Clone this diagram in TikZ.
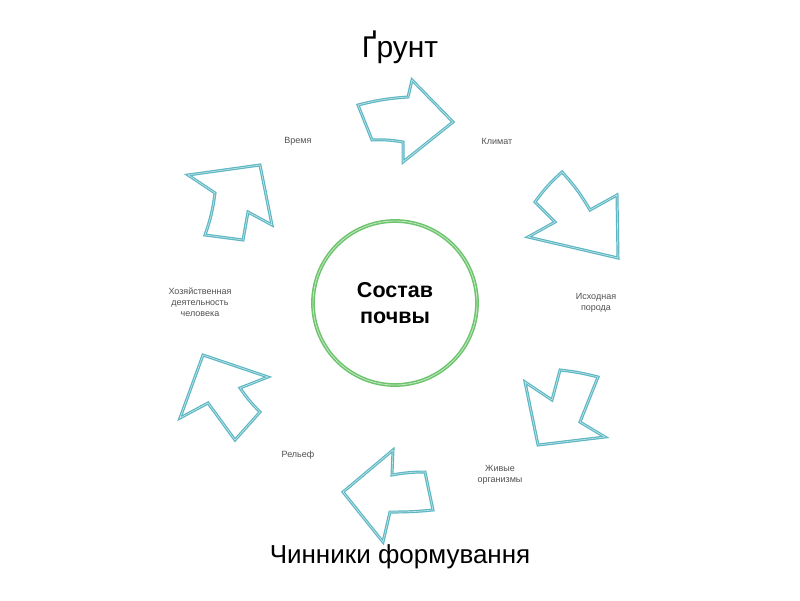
\documentclass[tikz,border=0pt]{standalone}
\usepackage{fontspec}
\setmainfont{Liberation Sans}
\definecolor{arrowc}{HTML}{5DB7C3}
\definecolor{ringc}{HTML}{6CC46C}
\definecolor{labc}{HTML}{505050}
\begin{document}
\begin{tikzpicture}[x=1pt,y=-1pt,
  arrowshape/.style={draw=arrowc,line width=1.2pt,double=arrowc!35,double distance=0.6pt,line join=miter,fill=white},
  lab/.style={text=labc,font=\fontsize{9}{11}\selectfont,align=center},
  title/.style={font=\fontsize{30}{34}\selectfont}]
\useasboundingbox (0,0) rectangle (800,600);
% title
\node[title] (t1) at (400,47) {Ґрунт};
\node[title,font=\fontsize{26}{30}\selectfont] (t2) at (400,557) {Чинники формування};
% centre
\node[circle,draw=ringc,line width=1.5pt,double=ringc!40,double distance=0.8pt,minimum size=164pt,
  font=\bfseries\fontsize{21.5}{26}\selectfont,align=center] (c) at (395,303) {Состав\\почвы};
% arrows
\draw[arrowshape] (358,105) to[bend left=5] (408,97) -- (412,80) -- (453,122) -- (403,162) -- (403,142) to[bend right=6] (372,140) -- cycle;
\draw[arrowshape] (562,172) to[bend right=6] (535,202) -- (555,222) -- (528,237) -- (618,258) -- (617,195) -- (590,210) to[bend right=6] cycle;
\draw[arrowshape] (525,382) -- (552,400) -- (560,370) to[bend left=4] (598,377) -- (580,422) -- (605,437) -- (538,445) -- cycle;
\draw[arrowshape] (343,492) -- (393,450) -- (392,475) to[bend left=5] (425,472) -- (433,510) to[bend left=3] (390,512) -- (383,542) -- cycle;
\draw[arrowshape] (203,355) -- (268,377) -- (240,388) to[bend right=5] (260,412) -- (235,440) -- (208,403) -- (180,418) -- cycle;
\draw[arrowshape] (260,165) -- (272,225) -- (248,212) -- (243,240) -- (205,235) to[bend right=6] (215,193) -- (188,175) -- cycle;
% labels
\node[lab] (l1) at (298,141) {Время};
\node[lab] (l2) at (497,141) {Климат};
\node[lab] (l3) at (596,303) {Исходная\\порода};
\node[lab] (l4) at (500,475) {Живые\\организмы};
\node[lab] (l5) at (298,455) {Рельеф};
\node[lab] (l6) at (200,302) {Хозяйственная\\деятельность\\человека};
\end{tikzpicture}
\end{document}
